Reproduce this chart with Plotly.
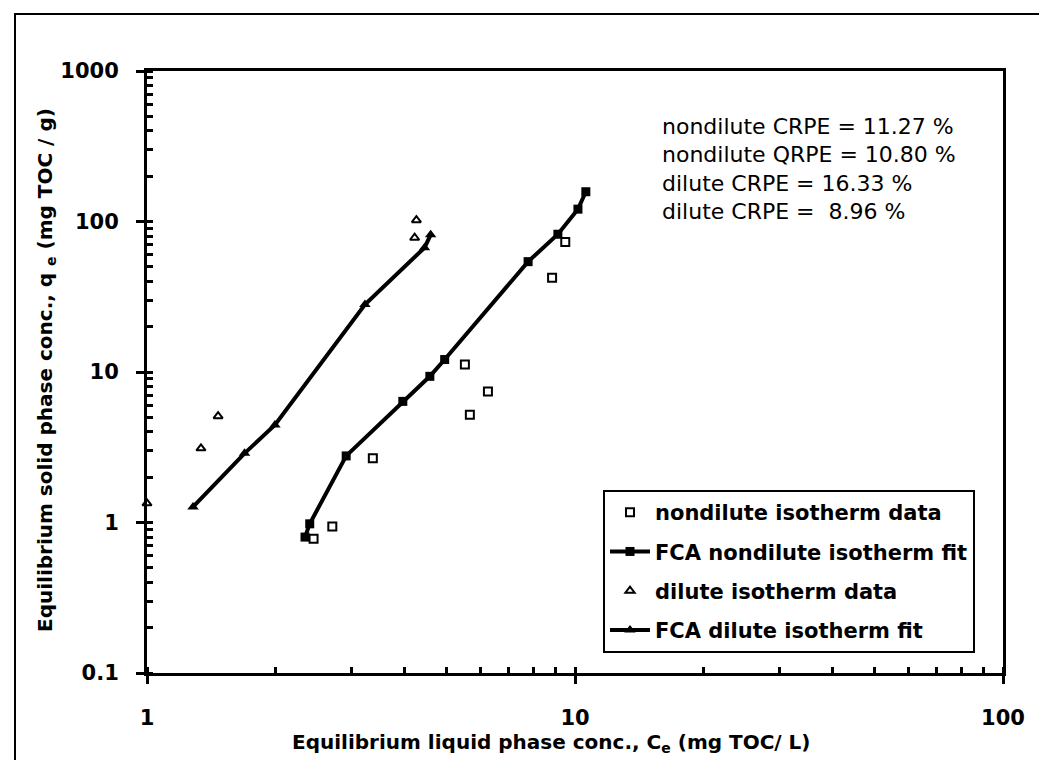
import plotly.graph_objects as go

# nondilute isotherm data (C_e mg TOC/L, q_e mg TOC/g)
nd_data_c = [2.45, 2.71, 3.37, 5.53, 5.68, 6.26, 8.84, 9.49]
nd_data_q = [0.78, 0.94, 2.67, 11.2, 5.19, 7.43, 42.3, 73.2]

# FCA nondilute isotherm fit
nd_fit_c = [2.34, 2.40, 2.92, 3.96, 4.58, 4.96, 7.77, 9.12, 10.16, 10.6]
nd_fit_q = [0.80, 0.98, 2.77, 6.38, 9.36, 12.1, 54.1, 82.3, 120.8, 157.7]

# dilute isotherm data
d_data_c = [1.0, 1.337, 1.466, 4.22, 4.26]
d_data_q = [1.34, 3.11, 5.09, 78.0, 102.0]

# FCA dilute isotherm fit
d_fit_c = [1.281, 1.69, 1.99, 3.23, 4.45, 4.6]
d_fit_q = [1.27, 2.88, 4.45, 28.1, 67.0, 81.5]

x_tick_vals = [1, 10, 100]
x_tick_text = ["1", "10", "100"]
y_tick_vals = [0.1, 1, 10, 100, 1000]
y_tick_text = ["0.1", "1", "10", "100", "1000"]

stats_lines = [
    "nondilute CRPE = 11.27 %",
    "nondilute QRPE = 10.80 %",
    "dilute CRPE = 16.33 %",
    "dilute CRPE =  8.96 %",
]

x_title = "Equilibrium liquid phase conc., C<sub>e</sub> (mg TOC/ L)"
y_title = "Equilibrium solid phase conc., q <sub>e</sub> (mg TOC / g)"

BOLD = "DejaVu Sans, Arial, sans-serif"
REG = "DejaVu Sans, Arial, sans-serif"

fig = go.Figure()
fig.add_trace(go.Scatter(
    x=nd_data_c, y=nd_data_q, mode="markers", name="nondilute isotherm data",
    legendgroup="a",
    marker=dict(symbol="square-open", size=8, color="black", line=dict(width=2, color="black")),
    cliponaxis=False,
))
fig.add_trace(go.Scatter(
    x=nd_fit_c, y=nd_fit_q, mode="lines+markers", name="FCA nondilute isotherm fit",
    legendgroup="b",
    line=dict(color="black", width=4),
    marker=dict(symbol="square", size=9, color="black"),
))
fig.add_trace(go.Scatter(
    x=d_data_c, y=d_data_q, mode="markers", name="dilute isotherm data",
    legendgroup="c",
    marker=dict(symbol="triangle-up-open", size=8, color="black", line=dict(width=2, color="black")),
    cliponaxis=False,
))
fig.add_trace(go.Scatter(
    x=d_fit_c, y=d_fit_q, mode="lines+markers", name="FCA dilute isotherm fit",
    legendgroup="d",
    line=dict(color="black", width=4),
    marker=dict(symbol="triangle-up", size=10, color="black"),
))

L, R, T, B = 139, 52, 63, 95
W, H = 1047, 760
pw = W - L - R
ph = H - T - B


def px_x(x):
    return (x - L) / pw


def px_y(y):
    return (H - B - y) / ph


for i, txt in enumerate(stats_lines):
    fig.add_annotation(
        text=txt, xref="paper", yref="paper",
        x=px_x(652), y=px_y(118 + i * 28.5),
        xanchor="left", yanchor="middle", showarrow=False,
        font=dict(family=REG, size=22, color="black"),
    )

# axis titles
fig.add_annotation(
    text=x_title, xref="paper", yref="paper",
    x=px_x(282), y=px_y(735), xanchor="left", yanchor="middle", showarrow=False,
    font=dict(family=BOLD, size=20, color="black", weight="bold"),
)
fig.add_annotation(
    text=y_title, xref="paper", yref="paper",
    x=px_x(38), y=px_y(362), xanchor="center", yanchor="middle", showarrow=False,
    textangle=-90,
    font=dict(family=BOLD, size=20, color="black", weight="bold"),
)

# outer figure border
fig.add_shape(
    type="rect", xref="paper", yref="paper",
    x0=px_x(7), x1=px_x(1040), y0=px_y(754), y1=px_y(6),
    line=dict(color="black", width=2), layer="below",
)

axis_common = dict(
    type="log",
    showgrid=False,
    zeroline=False,
    showline=True,
    linecolor="black",
    linewidth=3,
    mirror=True,
    ticks="outside",
    ticklen=8,
    tickwidth=3,
    tickcolor="black",
    tickfont=dict(family=BOLD, size=21, color="black", weight="bold"),
    minor=dict(ticks="inside", ticklen=6, tickwidth=3, tickcolor="black", dtick="D1", showgrid=False),
)

fig.update_xaxes(
    **axis_common,
    range=[0, 2],
    tickvals=x_tick_vals, ticktext=x_tick_text,
    ticklabelstandoff=16,
)
fig.update_yaxes(
    **axis_common,
    range=[-1, 3],
    tickvals=y_tick_vals, ticktext=y_tick_text,
    ticklabelstandoff=13,
)

fig.update_layout(
    width=W, height=H,
    margin=dict(l=L, r=R, t=T, b=B),
    paper_bgcolor="white",
    plot_bgcolor="white",
    showlegend=True,
    legend=dict(
        x=px_x(595), y=px_y(482), xanchor="left", yanchor="top",
        bordercolor="black", borderwidth=2, bgcolor="white",
        font=dict(family=BOLD, size=21, color="black", weight="bold"),
        tracegroupgap=9,
        itemwidth=40,
    ),
)

fig.write_html("out.html")
